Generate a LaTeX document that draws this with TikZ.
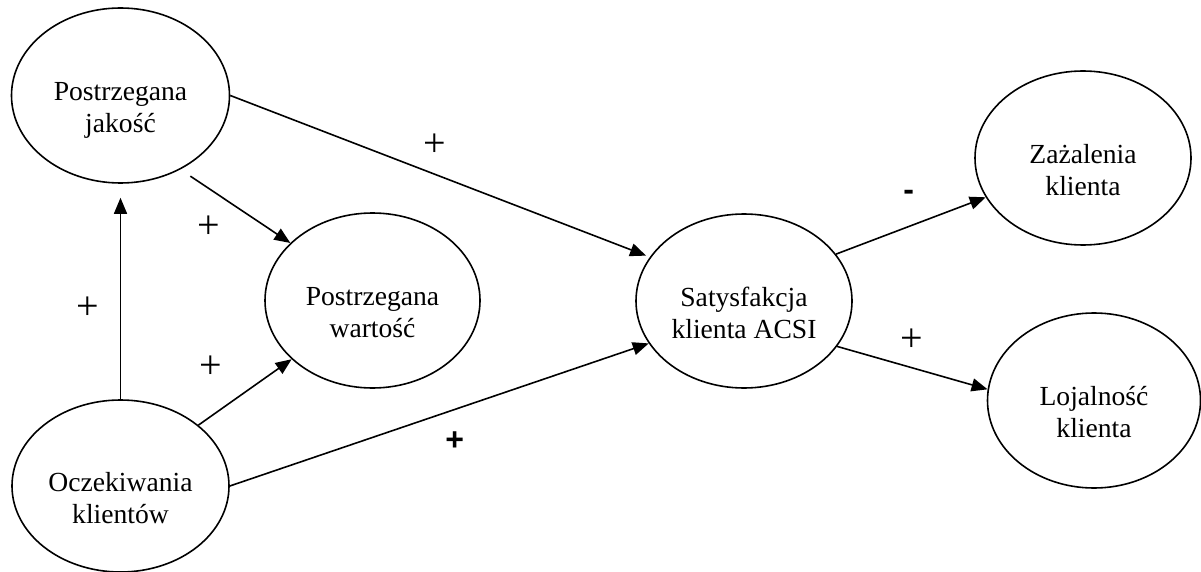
\documentclass[tikz,border=0pt]{standalone}
\usepackage{fontspec}
\setmainfont{Liberation Serif}
\newfontfamily\sansf{Liberation Sans}
\usetikzlibrary{shapes.geometric,arrows.meta}
\newcommand{\twoline}[2]{\raisebox{-21pt}[0pt][0pt]{\fontsize{27.6}{32}\selectfont\begin{tabular}{@{}c@{}}#1\\#2\end{tabular}}}
\tikzset{
  ell/.style={draw, ellipse, line width=1.6pt, inner sep=0pt},
  arr/.style={line width=1.6pt, -{Triangle[length=16pt,width=13pt]}},
  sgn/.style={inner sep=0pt, font=\fontsize{40}{40}\selectfont},
  bsgn/.style={inner sep=0pt, font=\sansf\bfseries\fontsize{32}{32}\selectfont}
}
\begin{document}
\begin{tikzpicture}[x=1pt,y=-1pt]
\useasboundingbox (0,0) rectangle (1201,572);
\node[ell, minimum width=218pt, minimum height=175pt] (jak) at (120.5,95.5) {\twoline{Postrzegana}{jakość}};
\node[ell, minimum width=215pt, minimum height=175pt] (war) at (372.5,300.5) {\twoline{Postrzegana}{wartość}};
\node[ell, minimum width=217pt, minimum height=172pt] (ocz) at (120.5,486) {\twoline{Oczekiwania}{klientów}};
\node[ell, minimum width=216pt, minimum height=174pt] (sat) at (744,301) {\twoline{Satysfakcja}{klienta ACSI}};
\node[ell, minimum width=216pt, minimum height=174pt] (zaz) at (1083,158) {\twoline{Zażalenia}{klienta}};
\node[ell, minimum width=213pt, minimum height=175pt] (loj) at (1094,400.5) {\twoline{Lojalność}{klienta}};

\draw[arr, shorten >=14pt] (ocz.north) -- (jak.south);
\draw[arr, shorten <=12pt] (jak.-51.5) -- (war.145);
\draw[arr, shorten >=4pt] (jak.east) -- (sat.155);
\draw[arr] (ocz.38) -- (war.216);
\draw[arr] (ocz.east) -- (sat.204);
\draw[arr] (sat.27) -- (zaz.202);
\draw[arr] (sat.-26) -- (loj.174);

\node[sgn] (p1) at (434.7,145.7) {+};
\node[sgn] (p2) at (208.6,227.7) {+};
\node[sgn] (p3) at (88,308) {+};
\node[sgn] (p4) at (210.5,367) {+};
\node[bsgn] (p5) at (454.7,441) {+};
\node[bsgn, anchor=base] (m6) at (908.7,200.8) {-};
\node[sgn] (p7) at (912,340) {+};
\end{tikzpicture}
\end{document}
